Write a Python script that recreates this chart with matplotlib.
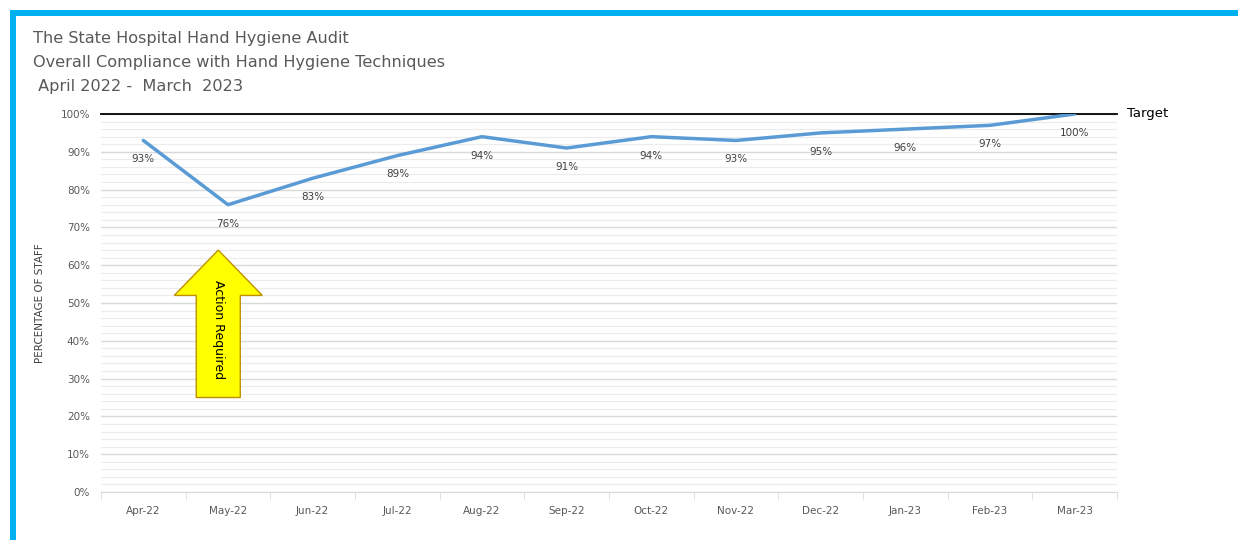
import matplotlib.pyplot as plt
from matplotlib.patches import FancyArrow, Rectangle

months = ['Apr-22', 'May-22', 'Jun-22', 'Jul-22', 'Aug-22', 'Sep-22',
          'Oct-22', 'Nov-22', 'Dec-22', 'Jan-23', 'Feb-23', 'Mar-23']
compliance = [93, 76, 83, 89, 94, 91, 94, 93, 95, 96, 97, 100]
target = 100

title_lines = ['The State Hospital Hand Hygiene Audit',
               'Overall Compliance with Hand Hygiene Techniques',
               ' April 2022 -  March  2023']

W, H = 1238, 540
fig = plt.figure(figsize=(W / 100, H / 100), dpi=100)
fig.patch.set_facecolor('white')

# cyan frame (top and left edges)
fig.patches.append(Rectangle((10 / W, 1 - 16 / H), 1, 6 / H, transform=fig.transFigure,
                             facecolor='#00B0F0', edgecolor='none'))
fig.patches.append(Rectangle((10 / W, 0), 6 / W, 1 - 10 / H, transform=fig.transFigure,
                             facecolor='#00B0F0', edgecolor='none'))

ax = fig.add_axes([101 / W, 1 - 492 / H, (1117 - 101) / W, (492 - 114) / H])
x = list(range(len(months)))

# gridlines: major every 10%, minor every 2%
for v in range(0, 101, 2):
    if v % 10 == 0:
        ax.axhline(v, color='#d9d9d9', lw=1.0, zorder=0)
    else:
        ax.axhline(v, color='#ececec', lw=0.8, zorder=0)

ax.plot([-0.5, len(months) - 0.5], [target, target], color='black', lw=1.3, zorder=2,
        clip_on=False)
ax.plot(x, compliance, color='#5B9BD5', lw=2.5, zorder=3, solid_capstyle='round')

for xi, v in zip(x, compliance):
    ax.annotate(f'{v}%', (xi, v), xytext=(0, -10), textcoords='offset points',
                ha='center', va='top', fontsize=7.5, color='#404040')

ax.text(len(months) - 0.38, target, 'Target', ha='left', va='center', fontsize=9.5,
        color='black', clip_on=False)

# yellow block arrow
arrow = FancyArrow(0.885, 25, 0, 39, width=0.52, head_width=1.04, head_length=12,
                   length_includes_head=True, facecolor='#FFFF00', edgecolor='#C09000',
                   lw=1.0, zorder=4)
ax.add_patch(arrow)
ax.text(0.885, 43, 'Action Required', rotation=-90, ha='center', va='center',
        fontsize=9, color='black', zorder=5)

ax.set_xlim(-0.5, len(months) - 0.5)
ax.set_ylim(0, 100)
ax.set_xticks(x)
ax.set_xticklabels(months, fontsize=7.5, color='#595959')
ax.set_xticks([i - 0.5 for i in range(len(months) + 1)], minor=True)
ax.tick_params(axis='x', which='major', length=0, pad=10)
ax.tick_params(axis='x', which='minor', length=5, color='#d9d9d9')
ax.set_yticks(range(0, 101, 10))
ax.set_yticklabels([f'{v}%' for v in range(0, 101, 10)], fontsize=7.5, color='#595959')
ax.tick_params(axis='y', length=0, pad=8)
for s in ['top', 'right', 'left']:
    ax.spines[s].set_visible(False)
ax.spines['bottom'].set_color('#d9d9d9')
ax.set_ylabel('PERCENTAGE OF STAFF', fontsize=7.5, color='#404040', labelpad=11)

for i, line in enumerate(title_lines):
    fig.text(33 / W, 1 - (38 + i * 24.5) / H, line, ha='left', va='center',
             fontsize=11.6, color='#595959')

fig.savefig('out.png', dpi=100)
